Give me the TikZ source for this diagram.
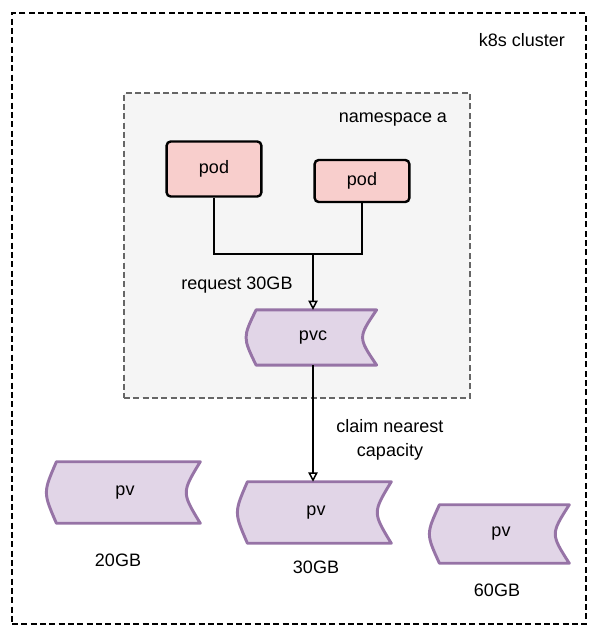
\documentclass[tikz,border=0pt]{standalone}
\usepackage{fontspec}
\setmainfont{Liberation Sans}
\usetikzlibrary{arrows.meta,backgrounds}
\definecolor{podfill}{HTML}{F8CECC}
\definecolor{pvfill}{HTML}{E1D5E7}
\definecolor{pvline}{HTML}{9673A6}
\definecolor{nsfill}{HTML}{F5F5F5}
\definecolor{nsline}{HTML}{666666}
\tikzset{
  podbox/.style={rectangle,draw,fill=podfill,line width=1.8pt,rounded corners=3pt,minimum width=71pt},
  storebox/.style={rectangle,inner sep=0pt},
  storeline/.style={draw=pvline,fill=pvfill,line width=2.2pt,line join=round},
  link/.style={line width=1.1pt},
  tip/.style={-{Triangle[open,length=7pt,width=7pt]}},
}
\begin{document}
\begin{tikzpicture}[x=0.75pt,y=-0.75pt,font=\fontsize{13.5}{18}\selectfont]
        \useasboundingbox (0,0) rectangle (603,636);
        % containers
        \node at (299,318.5) [rectangle,draw,line width=1.1pt,dash pattern=on 4.5pt off 2.5pt,inner sep=0pt,minimum width=430.5pt,minimum height=458pt] (cluster) {};
        \begin{scope}[on background layer]
        \node at (297,245.5) [rectangle,draw=nsline,fill=nsfill,line width=1.1pt,dash pattern=on 4.5pt off 2.5pt,inner sep=0pt,minimum width=259.5pt,minimum height=228.75pt] (ns) {};
        \end{scope}
        \node at (522,40) (clusterlabel) {k8s cluster};
        \node at (393,120) (nslabel) {namespace a};
        % pods and claim
        \node at (214,169) [podbox,minimum height=41.25pt] (pod1) {pod};
        \node at (362,181) [podbox,minimum height=31.5pt] (pod2) {pod};
        \node at (313,337.5) [storebox,minimum width=95pt,minimum height=41pt] (pvc) {pvc};
        \coordinate (join) at (313,254);
        \draw[link] (pod1.south) |- (join);
        \draw[link] (pod2.south) |- (join);
        \draw[link,tip] (join) -- (pvc.north);
        \node at (237,285) (reqlabel) {request 30GB};
        % volumes
        \node at (125,492.5) [storebox,minimum width=112.5pt,minimum height=45.75pt] (pv1) {pv};
        \node at (316,512.5) [storebox,minimum width=112.5pt,minimum height=45.75pt] (pv2) {pv};
        \node at (501,534) [storebox,minimum width=102pt,minimum height=43.5pt] (pv3) {pv};
        \node at (118,560) (size1) {20GB};
        \node at (316,567) (size2) {30GB};
        \node at (497,590) (size3) {60GB};
        \draw[link,tip] (pvc.south) -- (pvc.south |- pv2.north);
        \node at (390,440) [align=center] (claimlabel) {claim nearest\\capacity};
        \begin{scope}[on background layer]
        \foreach \n in {pvc,pv1,pv2,pv3}
            \draw[storeline] ([xshift=5pt]\n.north west) -- (\n.north east)
                .. controls ([xshift=-14pt]\n.east) .. (\n.south east)
                -- ([xshift=5pt]\n.south west)
                .. controls ([xshift=-5pt]\n.west) .. cycle;
        \end{scope}
\end{tikzpicture}
\end{document}
